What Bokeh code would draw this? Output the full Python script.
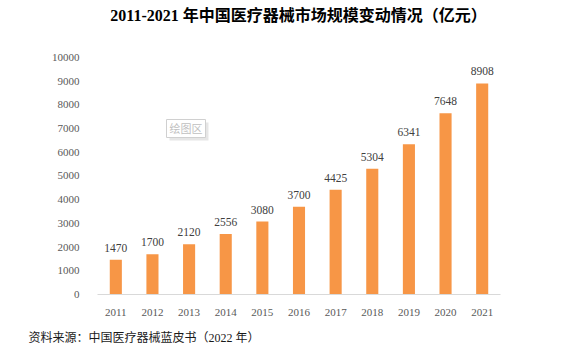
from bokeh.plotting import figure
from bokeh.models import ColumnDataSource, LabelSet, Label, FixedTicker, FactorRange, Title
from bokeh.embed import file_html
from bokeh.resources import INLINE

years = ["2011", "2012", "2013", "2014", "2015", "2016", "2017", "2018", "2019", "2020", "2021"]
values = [1470, 1700, 2120, 2556, 3080, 3700, 4425, 5304, 6341, 7648, 8908]
y_ticks = [0, 1000, 2000, 3000, 4000, 5000, 6000, 7000, 8000, 9000, 10000]
title_text = "2011-2021 年中国医疗器械市场规模变动情况（亿元）"
source_text = "资料来源：中国医疗器械蓝皮书（2022 年）"
plot_area_text = "绘图区"

SERIF = "'Liberation Serif', 'Times New Roman', 'Noto Sans CJK SC', serif"
CJK = "'Liberation Serif', 'Noto Sans CJK SC', sans-serif"

src = ColumnDataSource(dict(year=years, value=values, label=[str(v) for v in values]))

# the frame reaches the top of the canvas so that the title can sit inside it;
# the value axis stops at 10000 (ticks) while the range leaves headroom for the title
p = figure(width=565, height=357, x_range=FactorRange(*years), y_range=(0, 12405),
           output_backend="svg", toolbar_location=None,
           min_border_left=97, min_border_right=65, min_border_top=0, min_border_bottom=63)
p.outline_line_color = None
p.grid.grid_line_color = None
p.background_fill_color = "white"
p.border_fill_color = "white"
p.x_range.range_padding = 0
p.title.visible = False

p.vbar(x="year", top="value", width=0.33, source=src, fill_color="#F79646", line_color=None)

p.yaxis.ticker = FixedTicker(ticks=y_ticks)
p.yaxis.axis_line_color = None
p.yaxis.major_tick_line_color = None
p.yaxis.minor_tick_line_color = None
p.yaxis.major_label_text_font = SERIF
p.yaxis.major_label_text_font_size = "11px"
p.yaxis.major_label_text_color = "#595959"
p.yaxis.major_label_standoff = 12

p.xaxis.axis_line_color = "#D9D9D9"
p.xaxis.major_tick_line_color = None
p.xaxis.minor_tick_line_color = None
p.xaxis.major_label_text_font = SERIF
p.xaxis.major_label_text_font_size = "11px"
p.xaxis.major_label_text_color = "#595959"
p.xaxis.major_label_standoff = 8

foot = Title(text=source_text, align="left", offset=-69, standoff=21, text_font=CJK,
             text_font_size="12px", text_font_style="normal", text_color="#1a1a1a")
p.add_layout(foot, "below")

labels = LabelSet(x="year", y="value", text="label", source=src, text_align="center",
                  text_baseline="bottom", y_offset=8, text_font_size="11.5px",
                  text_color="#404040", text_font=SERIF)
p.add_layout(labels)

# screen units are relative to the frame's bottom-left corner (frame bottom at canvas y=294)
p.add_layout(Label(x=201, y=279, x_units="screen", y_units="screen", text=title_text,
                   text_align="center", text_baseline="middle", text_font=CJK,
                   text_font_size="16px", text_font_style="bold", text_color="#000000"))

# "plot area" tooltip box with a soft shadow
p.add_layout(Label(x=72, y=163, x_units="screen", y_units="screen", text=plot_area_text,
                   text_align="left", text_baseline="middle", text_font=CJK,
                   text_font_size="11px", text_color="#E6E6E6",
                   border_line_color=None, background_fill_color="#E6E6E6",
                   padding=3))
p.add_layout(Label(x=69, y=166, x_units="screen", y_units="screen", text=plot_area_text,
                   text_align="left", text_baseline="middle", text_font=CJK,
                   text_font_size="11px", text_color="#BFBFBF",
                   border_line_color="#D0D0D0", background_fill_color="white",
                   padding=3))

open("out.html", "w").write(file_html(p, INLINE))
